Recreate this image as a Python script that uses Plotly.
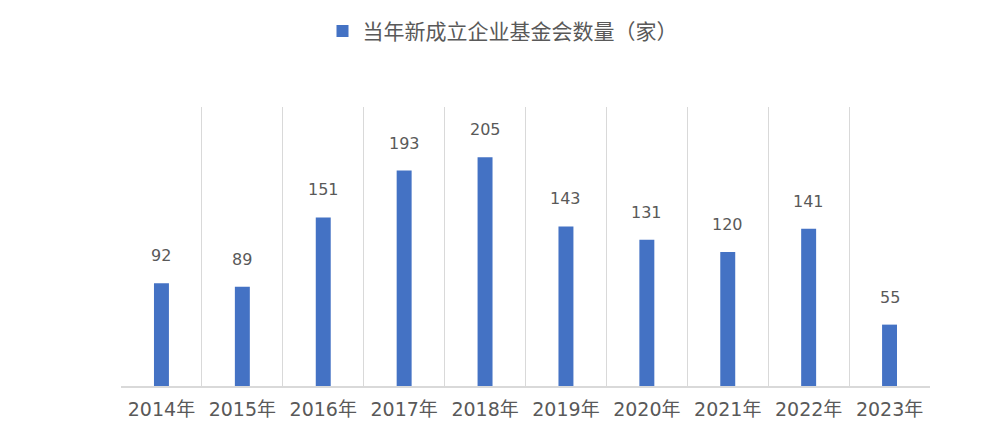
import plotly.graph_objects as go

categories = ["2014年", "2015年", "2016年", "2017年", "2018年",
              "2019年", "2020年", "2021年", "2022年", "2023年"]
values = [92, 89, 151, 193, 205, 143, 131, 120, 141, 55]
series_name = "当年新成立企业基金会数量（家）"

FONT = "Noto Sans CJK SC, Microsoft YaHei, sans-serif"
NUM_FONT = "DejaVu Sans, Noto Sans CJK SC, sans-serif"
BAR_COLOR = "#4472C4"
GRID = "#D9D9D9"
TEXT = "#595959"

fig = go.Figure()
fig.add_trace(go.Bar(
    x=categories, y=values, name=series_name,
    marker=dict(color=BAR_COLOR, line=dict(width=0)),
    showlegend=True,
))

for c, v in zip(categories, values):
    fig.add_annotation(
        x=c, y=v, text=str(v), showarrow=False,
        yanchor="bottom", yshift=16,
        font=dict(family=NUM_FONT, size=16, color=TEXT),
    )

fig.update_layout(
    width=989, height=425,
    margin=dict(l=113, r=67, t=99, b=47),
    paper_bgcolor="white", plot_bgcolor="white",
    bargap=0.815,
    font=dict(family=FONT, color=TEXT),
    legend=dict(
        orientation="h", x=0.5, xanchor="center", xref="container",
        y=0.945, yanchor="middle", yref="container",
        font=dict(family=FONT, size=21, color=TEXT),
    ),
    xaxis=dict(
        type="category", tickson="boundaries",
        showgrid=True, gridcolor=GRID, gridwidth=1,
        showline=True, linecolor=GRID, linewidth=1.5,
        ticks="", tickfont=dict(family=NUM_FONT, size=19, color=TEXT),
        ticklabelstandoff=5,
        zeroline=False,
    ),
    yaxis=dict(
        range=[0, 250], showgrid=False, showticklabels=False,
        zeroline=False, showline=False, ticks="",
    ),
)

fig.write_html("out.html")
